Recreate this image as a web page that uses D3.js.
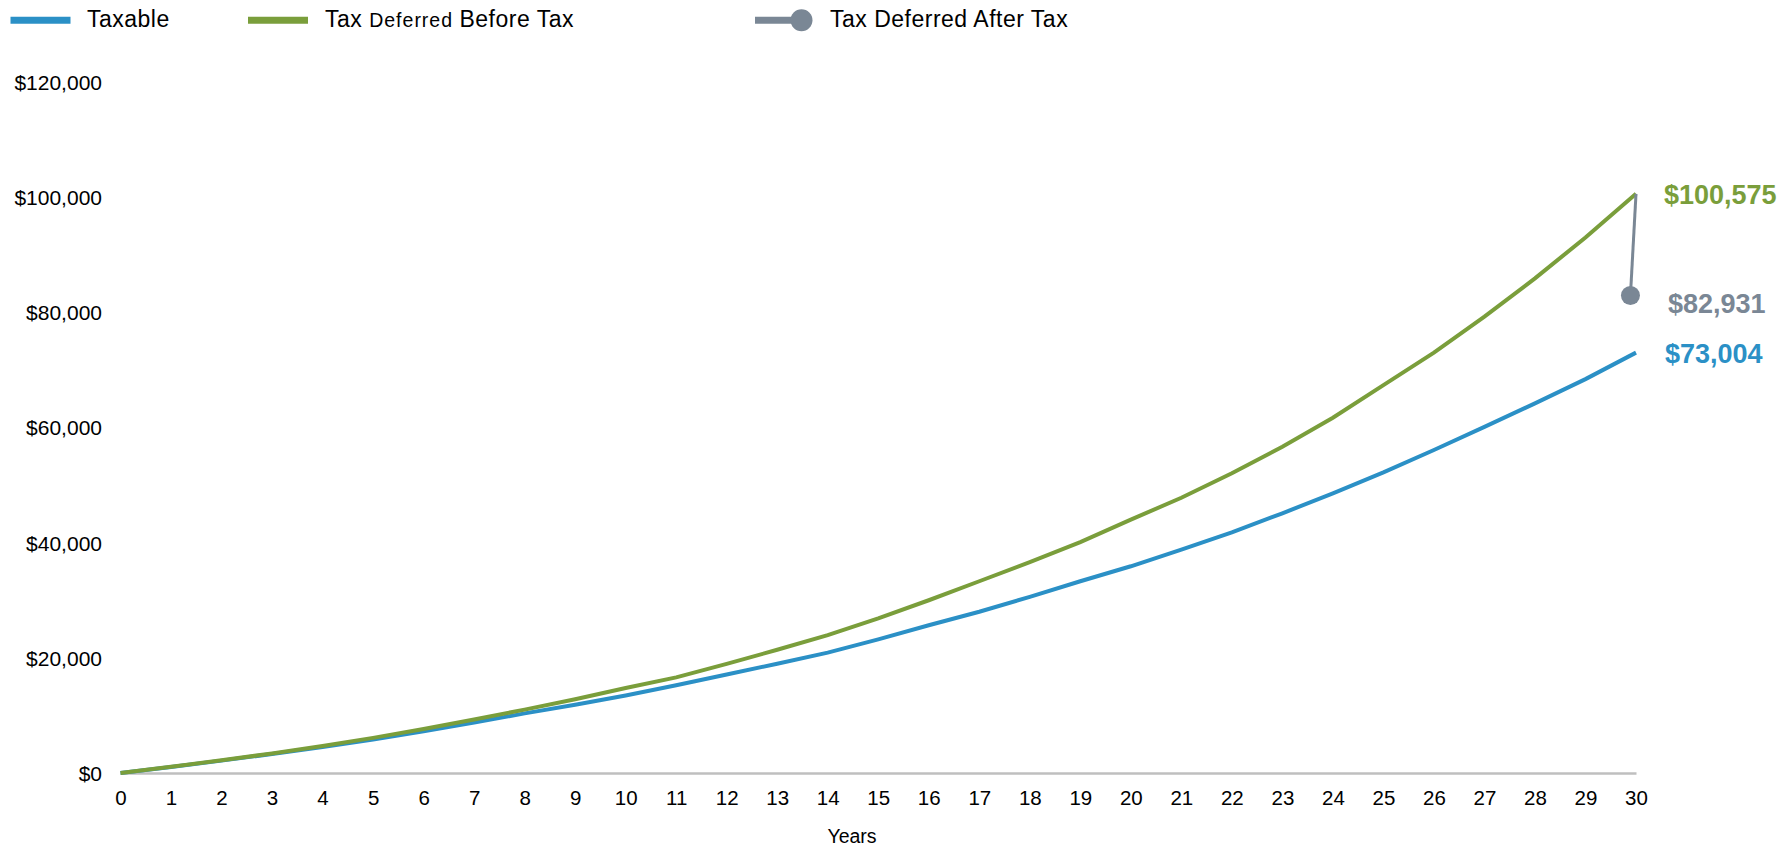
<!DOCTYPE html>
<html>
<head>
<meta charset="utf-8">
<script src="https://cdn.jsdelivr.net/npm/d3@7/dist/d3.min.js"></script>
<style>
  html, body { margin: 0; padding: 0; background: #fff; }
  svg { display: block; font-family: "Liberation Sans", Arial, sans-serif; }
  .axis text { fill: #000; }
</style>
</head>
<body>
<svg id="chart" width="1792" height="846"></svg>
<script>
// values
const years = d3.range(0, 31);
const taxable = [0, 1050, 2150, 3300, 4500, 5800, 7250, 8750, 10350, 11850, 13450,
  15250, 17100, 18980, 20900, 23200, 25650, 28000, 30600, 33300, 35900,
  38800, 41800, 45100, 48570, 52200, 56100, 60100, 64200, 68400, 73004];
const deferredBefore = [0, 1070, 2200, 3400, 4700, 6100, 7650, 9300, 11000, 12800, 14750,
  16600, 18950, 21400, 23950, 26850, 30000, 33300, 36600, 40100, 44000,
  47800, 52050, 56650, 61700, 67350, 73000, 79250, 85900, 93000, 100575];
const afterTax = { from: 30, year: 29.89, value: 82931 };
const yTicks = [0, 20000, 40000, 60000, 80000, 100000, 120000];
const legendItems = ["Taxable", "Tax Deferred Before Tax", "Tax Deferred After Tax"];

const blue = "#2B90C6", green = "#7A9E3B", grey = "#7A8795";

const svg = d3.select("#chart");
const x = d3.scaleLinear().domain([0, 30]).range([120.5, 1636]);
const y = d3.scaleLinear().domain([0, 120000]).range([773, 82]);
const money = d => "$" + d3.format(",")(d);

// y axis: labels only
svg.append("g")
  .attr("class", "axis")
  .attr("transform", "translate(102,0)")
  .call(d3.axisLeft(y).tickValues(yTicks).tickSize(0).tickPadding(0).tickFormat(money))
  .call(g => g.select(".domain").remove())
  .selectAll("text").style("font-size", "21px").attr("dy", "0.35em");

// x axis
const xa = svg.append("g")
  .attr("class", "axis")
  .attr("transform", `translate(0,${y(0)})`)
  .call(d3.axisBottom(x).tickValues(years).tickSize(0).tickPadding(17).tickFormat(d3.format("d")));
xa.select(".domain").attr("stroke", "#BFBFBF").attr("stroke-width", 2.5);
xa.selectAll("text").style("font-size", "20.5px");

svg.append("text")
  .attr("x", 852).attr("y", 843)
  .attr("text-anchor", "middle")
  .style("font-size", "19.5px")
  .text("Years");

const line = d3.line().x((d, i) => x(years[i])).y(d => y(d));

svg.append("path").datum(taxable)
  .attr("d", line).attr("fill", "none")
  .attr("stroke", blue).attr("stroke-width", 4);
svg.append("path").datum(deferredBefore)
  .attr("d", line).attr("fill", "none")
  .attr("stroke", green).attr("stroke-width", 4);

// after-tax drop
const topV = deferredBefore[deferredBefore.length - 1];
svg.append("line")
  .attr("x1", x(afterTax.from)).attr("y1", y(topV))
  .attr("x2", x(afterTax.year)).attr("y2", y(afterTax.value))
  .attr("stroke", grey).attr("stroke-width", 3);
svg.append("circle")
  .attr("cx", x(afterTax.year)).attr("cy", y(afterTax.value))
  .attr("r", 9.5).attr("fill", grey);

// end labels
const endLabels = [
  { v: topV, c: green, dx: 28, dy: 1 },
  { v: afterTax.value, c: grey, dx: 32, dy: 8 },
  { v: taxable[taxable.length - 1], c: blue, dx: 29, dy: 1 }
];
svg.selectAll(".endlabel").data(endLabels).join("text")
  .attr("class", "endlabel")
  .attr("x", d => x(30) + d.dx)
  .attr("y", d => y(d.v) + d.dy)
  .attr("dy", "0.35em")
  .attr("fill", d => d.c)
  .style("font-size", "27px").style("font-weight", "bold")
  .text(d => money(d.v));

// legend
const lg = svg.append("g").style("font-size", "23px").style("letter-spacing", "0.5px");
lg.append("line").attr("x1", 10.5).attr("x2", 70.5).attr("y1", 20.3).attr("y2", 20.3)
  .attr("stroke", blue).attr("stroke-width", 7);
lg.append("text").attr("x", 87).attr("y", 26.5).text(legendItems[0]);

lg.append("line").attr("x1", 248).attr("x2", 308).attr("y1", 20.3).attr("y2", 20.3)
  .attr("stroke", green).attr("stroke-width", 7);
const t2 = lg.append("text").attr("x", 325).attr("y", 26.5);
const parts = legendItems[1].split(" ");
t2.append("tspan").text(parts[0] + " ");
t2.append("tspan").style("font-size", "19.5px").style("letter-spacing", "1px").text(parts[1] + " ");
t2.append("tspan").text(parts.slice(2).join(" "));

lg.append("line").attr("x1", 755).attr("x2", 800).attr("y1", 20.3).attr("y2", 20.3)
  .attr("stroke", grey).attr("stroke-width", 7);
lg.append("circle").attr("cx", 801.5).attr("cy", 20.3).attr("r", 11).attr("fill", grey);
lg.append("text").attr("x", 830).attr("y", 26.5).text(legendItems[2]);
</script>
</body>
</html>
